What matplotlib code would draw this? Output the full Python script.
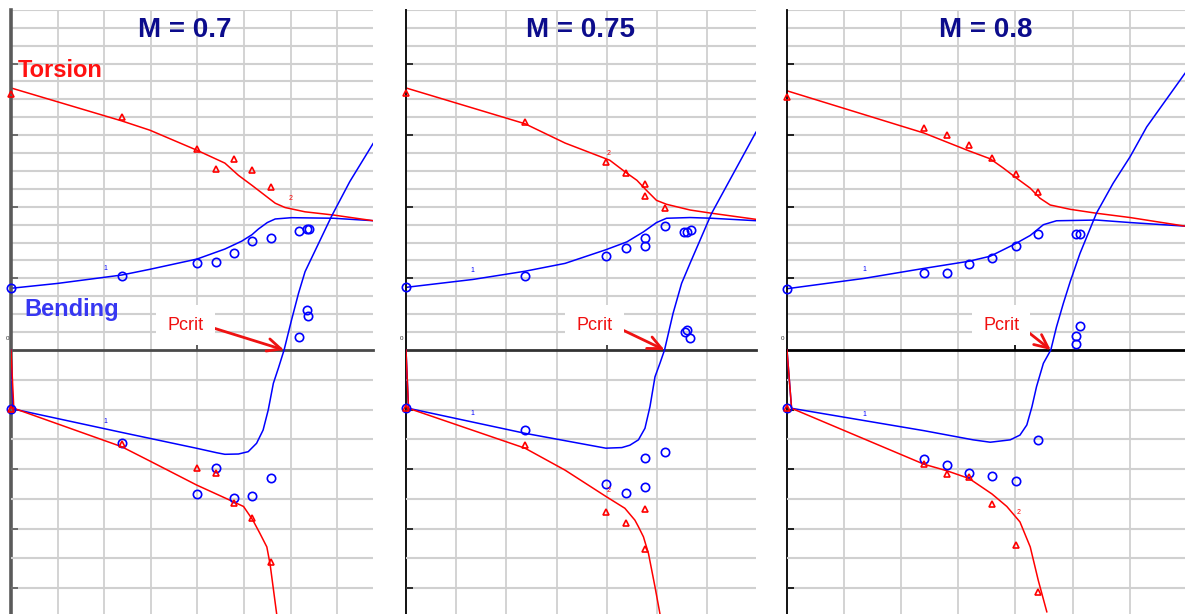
import matplotlib
matplotlib.use("Agg")
import matplotlib.pyplot as plt

plt.rcParams['font.family'] = ['Liberation Sans', 'DejaVu Sans']

# ---------------------------------------------------------------- data
mach_titles = ["M = 0.7", "M = 0.75", "M = 0.8"]

# M = 0.7 : frequency (upper) and damping (lower) vs dynamic pressure
m07_tor_x = [0, 2.375, 2.98, 3.99, 4.59, 4.88, 5.17, 5.45, 5.67, 5.88, 6.31, 6.92, 7.77]
m07_tor_y = [3.66, 3.20, 3.07, 2.79, 2.61, 2.44, 2.30, 2.16, 2.05, 1.99, 1.93, 1.885, 1.806]
m07_bend_x = [0, 1.0, 2.375, 2.98, 3.99, 4.59, 4.95, 5.17, 5.31, 5.50, 5.67, 6.02, 6.92, 7.77]
m07_bend_y = [0.862, 0.93, 1.047, 1.127, 1.27, 1.41, 1.52, 1.61, 1.69, 1.78, 1.83, 1.848, 1.84, 1.806]
m07_tdamp_x = [0, 0.06, 2.375, 2.98, 3.985, 4.77, 4.99, 5.19, 5.34, 5.49, 5.56, 5.70]
m07_tdamp_y = [0, -0.98, -1.625, -1.866, -2.27, -2.55, -2.63, -2.86, -3.08, -3.31, -3.60, -4.43]
m07_bdamp_x = [0, 0.04, 2.375, 3.985, 4.41, 4.59, 4.88, 5.09, 5.27, 5.41, 5.52, 5.63, 5.74,
               5.86, 6.02, 6.17, 6.31, 6.88, 7.27, 7.77]
m07_bdamp_y = [0, -0.99, -1.385, -1.652, -1.726, -1.753, -1.748, -1.709, -1.568, -1.345, -1.008,
               -0.56, -0.30, 0, 0.504, 0.953, 1.316, 2.25, 2.83, 3.47]
m07_tor_pts_x = [0, 2.375, 3.99, 4.40, 4.79, 5.17, 5.58]
m07_tor_pts_y = [3.575, 3.254, 2.807, 2.528, 2.668, 2.514, 2.277]
m07_bend_pts_x = [0, 2.375, 3.99, 4.40, 4.79, 5.17, 5.58, 6.17, 6.36, 6.39, 6.36, 6.38, 6.18]
m07_bend_pts_y = [0.866, 1.038, 1.215, 1.233, 1.359, 1.522, 1.56, 1.662, 1.685, 1.685, 0.559, 0.479, 0.177]
m07_tdamp_pts_x = [0, 2.375, 4.0, 4.40, 4.79, 5.18, 5.58]
m07_tdamp_pts_y = [-0.99, -1.585, -1.98, -2.06, -2.57, -2.83, -3.56]
m07_bdamp_pts_x = [0, 2.375, 4.0, 4.40, 4.79, 5.18, 5.58]
m07_bdamp_pts_y = [-0.99, -1.56, -2.42, -1.99, -2.48, -2.45, -2.15]
m07_pcrit = 5.86

# M = 0.75
m075_tor_x = [0, 2.37, 3.17, 4.06, 4.36, 4.60, 4.79, 4.99, 5.19, 5.66, 6.09, 6.97]
m075_tor_y = [3.66, 3.16, 2.89, 2.65, 2.49, 2.37, 2.23, 2.09, 2.035, 1.955, 1.91, 1.825]
m075_bend_x = [0, 1.33, 2.37, 3.17, 3.98, 4.40, 4.73, 4.99, 5.19, 5.66, 6.09, 6.97]
m075_bend_y = [0.875, 0.985, 1.10, 1.21, 1.40, 1.51, 1.65, 1.78, 1.84, 1.85, 1.84, 1.806]
m075_tdamp_x = [0, 0.05, 2.37, 3.17, 3.98, 4.36, 4.56, 4.63, 4.73, 4.83, 4.96, 5.06]
m075_tdamp_y = [0, -0.98, -1.65, -2.02, -2.46, -2.66, -2.86, -2.97, -3.14, -3.42, -3.98, -4.44]
m075_bdamp_x = [0, 0.05, 2.37, 3.98, 4.30, 4.46, 4.63, 4.76, 4.86, 4.96, 5.06, 5.15, 5.32,
                5.49, 5.66, 6.09, 6.97]
m075_bdamp_y = [0, -0.98, -1.40, -1.65, -1.64, -1.60, -1.51, -1.316, -0.953, -0.45, -0.22, 0,
                0.616, 1.12, 1.46, 2.30, 3.66]
m075_tor_pts_x = [0, 2.37, 3.98, 4.38, 4.77, 4.77, 5.16]
m075_tor_pts_y = [3.59, 3.18, 2.62, 2.47, 2.32, 2.15, 1.99]
m075_bend_pts_x = [0, 2.37, 3.98, 4.38, 4.77, 4.77, 5.16, 5.54, 5.59, 5.67, 5.56, 5.60, 5.66]
m075_bend_pts_y = [0.875, 1.033, 1.317, 1.43, 1.564, 1.457, 1.727, 1.652, 1.652, 1.676, 0.256, 0.279, 0.172]
m075_tdamp_pts_x = [0, 2.37, 3.98, 4.38, 4.77, 4.77]
m075_tdamp_pts_y = [-0.98, -1.60, -2.72, -2.90, -2.67, -3.34]
m075_bdamp_pts_x = [0, 2.37, 3.98, 4.38, 4.77, 4.77, 5.16]
m075_bdamp_pts_y = [-0.98, -1.345, -2.25, -2.41, -1.82, -2.30, -1.71]
m075_pcrit = 5.15

# M = 0.8
m08_tor_x = [0, 2.40, 3.19, 3.56, 3.79, 4.02, 4.26, 4.43, 4.61, 4.96, 5.42, 6.01, 6.97]
m08_tor_y = [3.62, 3.03, 2.78, 2.67, 2.54, 2.40, 2.26, 2.12, 2.025, 1.965, 1.91, 1.85, 1.73]
m08_bend_x = [0, 1.35, 2.40, 3.19, 3.56, 3.99, 4.26, 4.49, 4.72, 5.42, 6.01, 6.97]
m08_bend_y = [0.856, 1.00, 1.14, 1.24, 1.31, 1.48, 1.60, 1.75, 1.805, 1.815, 1.78, 1.73]
m08_tdamp_x = [0, 0.08, 2.40, 2.80, 3.19, 3.59, 3.85, 4.08, 4.26, 4.40, 4.55]
m08_tdamp_y = [0, -0.98, -1.92, -2.03, -2.16, -2.42, -2.63, -2.89, -3.31, -3.87, -4.40]
m08_bdamp_x = [0, 0.08, 2.40, 3.26, 3.56, 3.91, 4.08, 4.20, 4.29, 4.37, 4.49, 4.62, 4.72, 4.84,
               4.96, 5.13, 5.42, 5.71, 6.01, 6.30, 6.59, 6.97]
m08_bdamp_y = [0, -0.98, -1.356, -1.51, -1.55, -1.51, -1.43, -1.26, -0.953, -0.616, -0.224, 0,
               0.39, 0.785, 1.15, 1.62, 2.30, 2.80, 3.25, 3.75, 4.14, 4.65]
m08_tor_pts_x = [0, 2.40, 2.80, 3.19, 3.59, 4.01, 4.39]
m08_tor_pts_y = [3.54, 3.10, 3.00, 2.86, 2.68, 2.46, 2.21]
m08_bend_pts_x = [0, 2.40, 2.80, 3.19, 3.59, 4.01, 4.39, 5.06, 5.13, 5.14, 5.07, 5.06]
m08_bend_pts_y = [0.856, 1.08, 1.08, 1.20, 1.28, 1.457, 1.616, 1.616, 1.625, 0.335, 0.196, 0.084]
m08_tdamp_pts_x = [0, 2.40, 2.80, 3.19, 3.59, 4.01, 4.39]
m08_tdamp_pts_y = [-0.98, -1.92, -2.09, -2.13, -2.59, -3.28, -4.06]
m08_bdamp_pts_x = [0, 2.40, 2.80, 3.19, 3.59, 4.01, 4.39]
m08_bdamp_pts_y = [-0.98, -1.83, -1.93, -2.07, -2.12, -2.21, -1.52]
m08_pcrit = 4.62

# mode-number tags written along the curves: (text, x, y, colour, on damping axes)
m07_tags = [("1", 2.02, 1.09, "blue", False), ("2", 5.99, 2.07, "red", False),
            ("1", 2.02, -1.26, "blue", True)]
m075_tags = [("1", 1.33, 1.06, "blue", False), ("2", 4.04, 2.70, "red", False),
             ("1", 1.33, -1.13, "blue", True), ("2", 4.04, -2.42, "red", True)]
m08_tags = [("1", 1.35, 1.07, "blue", False), ("1", 1.35, -1.14, "blue", True),
            ("2", 4.05, -2.79, "red", True)]

panels = [
    dict(title=mach_titles[0], tor=(m07_tor_x, m07_tor_y), bend=(m07_bend_x, m07_bend_y),
         tdamp=(m07_tdamp_x, m07_tdamp_y), bdamp=(m07_bdamp_x, m07_bdamp_y),
         tpts=(m07_tor_pts_x, m07_tor_pts_y), bpts=(m07_bend_pts_x, m07_bend_pts_y),
         tdpts=(m07_tdamp_pts_x, m07_tdamp_pts_y), bdpts=(m07_bdamp_pts_x, m07_bdamp_pts_y),
         pcrit=m07_pcrit, tags=m07_tags),
    dict(title=mach_titles[1], tor=(m075_tor_x, m075_tor_y), bend=(m075_bend_x, m075_bend_y),
         tdamp=(m075_tdamp_x, m075_tdamp_y), bdamp=(m075_bdamp_x, m075_bdamp_y),
         tpts=(m075_tor_pts_x, m075_tor_pts_y), bpts=(m075_bend_pts_x, m075_bend_pts_y),
         tdpts=(m075_tdamp_pts_x, m075_tdamp_pts_y), bdpts=(m075_bdamp_pts_x, m075_bdamp_pts_y),
         pcrit=m075_pcrit, tags=m075_tags),
    dict(title=mach_titles[2], tor=(m08_tor_x, m08_tor_y), bend=(m08_bend_x, m08_bend_y),
         tdamp=(m08_tdamp_x, m08_tdamp_y), bdamp=(m08_bdamp_x, m08_bdamp_y),
         tpts=(m08_tor_pts_x, m08_tor_pts_y), bpts=(m08_bend_pts_x, m08_bend_pts_y),
         tdpts=(m08_tdamp_pts_x, m08_tdamp_pts_y), bdpts=(m08_bdamp_pts_x, m08_bdamp_pts_y),
         pcrit=m08_pcrit, tags=m08_tags),
]

# ---------------------------------------------------------------- layout
W, H = 1185, 614
TOP = 10            # px from the top of the figure to the top of each panel
ZERO = 340          # px from the panel top down to the zero line
PX_FREQ = 71.6      # px per frequency unit
PX_DAMP = 59.5      # px per damping unit
# (left px, right px, px per x unit, spine colour, spine width, zero-line colour)
geometry = [
    (11, 373, 46.6, "#5a5a5a", 2.6, "#4a4a4a"),
    (406, 756, 50.2, "#111111", 1.4, "#333333"),
    (787, 1185, 57.1, "#000000", 1.3, "#000000"),
]

RED = "#ff0000"
BLUE = "#0000ff"
GRID = "#d0d0d0"

fig = plt.figure(figsize=(W / 100, H / 100), dpi=100)
fig.patch.set_facecolor("white")

ax_h = H - TOP
for p, (left, right, pxu, spc, spw, zc) in zip(panels, geometry):
    rect = [left / W, 0, (right - left) / W, ax_h / H]
    xmax = (right - left) / pxu

    axf = fig.add_axes(rect)
    axd = fig.add_axes(rect)
    axd.patch.set_visible(False)

    axf.set_xlim(0, xmax)
    axd.set_xlim(0, xmax)
    axf.set_ylim(-(ax_h - ZERO) / PX_FREQ, ZERO / PX_FREQ)
    axd.set_ylim(-(ax_h - ZERO) / PX_DAMP, ZERO / PX_DAMP)

    # grid: frequency scale above the zero line, damping scale below it
    for k in range(1, int(xmax) + 1):
        axf.axvline(k, color=GRID, lw=1.3, zorder=0)
    yf = 0.25
    while yf < ZERO / PX_FREQ + 0.01:
        axf.axhline(yf, color=GRID, lw=1.5, zorder=0)
        yf += 0.25
    yd = -0.5
    while yd > -(ax_h - ZERO) / PX_DAMP:
        axd.axhline(yd, color=GRID, lw=1.5, zorder=0)
        yd -= 0.5

    # spines / ticks
    for s in ("top", "right"):
        axf.spines[s].set_visible(False)
    for s in axd.spines.values():
        s.set_visible(False)
    axf.spines["left"].set_color(spc)
    axf.spines["left"].set_linewidth(spw)
    axf.spines["bottom"].set_position(("data", 0))
    axf.spines["bottom"].set_color(zc)
    axf.spines["bottom"].set_linewidth(2.0)
    axf.spines["bottom"].set_zorder(1.5)
    axf.set_xticks([4])
    axf.set_yticks([1, 2, 3, 4])
    axf.tick_params(axis="x", direction="in", length=6, width=1.2, color=zc, labelbottom=False)
    axf.tick_params(axis="y", direction="in", length=5, width=1.2, color=spc, labelleft=False)
    axd.set_xticks([])
    axd.set_yticks([-1, -2, -3, -4])
    axd.tick_params(axis="y", direction="in", length=5, width=1.2, color=spc, labelleft=False)
    axf.text(-0.045, 0.16, "0", fontsize=4.5, color="#333333", ha="right", va="center",
             clip_on=False)

    # frequency curves and measured points
    axf.plot(*p["bend"], color=BLUE, lw=1.1, zorder=2)
    axf.plot(*p["tor"], color=RED, lw=1.1, zorder=2)
    axf.plot(*p["bpts"], ls="none", marker="o", ms=6, mfc="none", mec=BLUE, mew=1.2,
             zorder=3, clip_on=False)
    axf.plot(*p["tpts"], ls="none", marker="^", ms=5, mfc="none", mec=RED, mew=1.2,
             zorder=3, clip_on=False)

    # damping curves and measured points
    axd.plot(*p["bdamp"], color=BLUE, lw=1.1, zorder=2)
    axd.plot(*p["tdamp"], color=RED, lw=1.1, zorder=2)
    axd.plot(*p["bdpts"], ls="none", marker="o", ms=6, mfc="none", mec=BLUE, mew=1.2,
             zorder=3, clip_on=False)
    axd.plot(*p["tdpts"], ls="none", marker="^", ms=5, mfc="none", mec=RED, mew=1.2,
             zorder=3, clip_on=False)

    for txt, tx, ty, col, on_damp in p["tags"]:
        (axd if on_damp else axf).text(tx, ty, txt, fontsize=5, color=col,
                                      ha="center", va="bottom", zorder=3)

    # critical dynamic pressure
    axd.annotate("Pcrit", xy=(p["pcrit"], 0), xytext=(3.75, 0.42),
                 fontsize=13, color="#f01010", ha="center", va="center",
                 bbox=dict(boxstyle="square,pad=0.62", fc="white", ec="none"),
                 arrowprops=dict(arrowstyle="->,head_length=0.75,head_width=0.35",
                                 color="#ee1111", lw=2.0, relpos=(1.0, 0.5),
                                 patchA=None, shrinkA=2, shrinkB=0),
                 zorder=4)

    axf.text(0.5 if left > 11 else 0.48, 1 - 20 / ax_h, p["title"], transform=axf.transAxes,
             fontsize=20, fontweight="bold", color="#0c0c8c", ha="center", va="center",
             zorder=5)

# mode names on the first panel
ax0 = fig.axes[0]
ax0.text(0.15, 3.91, "Torsion", fontsize=17, fontweight="bold", color="#ff1111",
         ha="left", va="center", zorder=5)
ax0.text(0.28, 0.57, "Bending", fontsize=17, fontweight="bold", color="#3737f2",
         ha="left", va="center", zorder=5)

fig.savefig("out.png", dpi=100, facecolor="white")
